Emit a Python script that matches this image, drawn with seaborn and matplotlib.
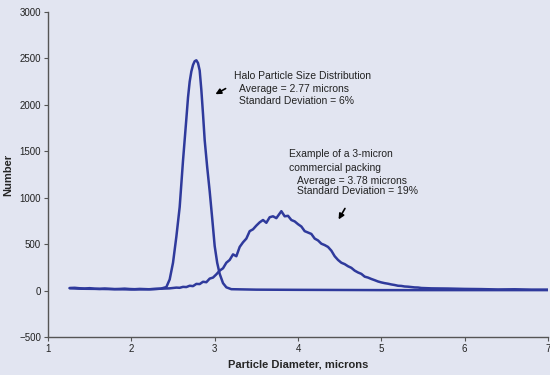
import matplotlib
matplotlib.use("Agg")
import matplotlib.pyplot as plt
import seaborn as sns
import pandas as pd

# Halo (narrow) distribution
halo_x = [1.26, 1.4, 1.6, 1.8, 2.0, 2.2, 2.35, 2.42, 2.46, 2.50, 2.54, 2.58, 2.62, 2.66,
          2.68, 2.70, 2.72, 2.74, 2.76, 2.78, 2.80, 2.82, 2.84, 2.86, 2.88, 2.91, 2.94,
          2.97, 3.00, 3.03, 3.06, 3.10, 3.14, 3.2, 3.5, 4.0, 5.0, 6.0, 7.0]
halo_y = [25, 20, 18, 15, 12, 14, 20, 38, 120, 300, 580, 900, 1400, 1850,
          2080, 2250, 2360, 2430, 2470, 2480, 2450, 2370, 2160, 1900, 1620, 1330, 1070,
          780, 480, 300, 180, 80, 35, 15, 10, 8, 5, 5, 5]

# Commercial 3-micron packing (broad) distribution
broad_x = [1.26, 1.32, 1.38, 1.44, 1.50, 1.56, 1.62, 1.68, 1.74, 1.80, 1.86, 1.92, 1.98,
           2.04, 2.10, 2.16, 2.22, 2.28, 2.34, 2.40, 2.46,
           2.50, 2.54, 2.58, 2.62, 2.66, 2.70, 2.74, 2.78, 2.82, 2.86, 2.90, 2.94, 2.98,
           3.02, 3.06, 3.10, 3.14, 3.18, 3.22, 3.26, 3.30, 3.34, 3.38, 3.42, 3.46, 3.50,
           3.54, 3.58, 3.62, 3.66, 3.70, 3.74, 3.78, 3.80, 3.84, 3.88, 3.92, 3.96, 4.00,
           4.04, 4.08, 4.12, 4.16, 4.20, 4.24, 4.28, 4.32, 4.36, 4.40, 4.44, 4.48, 4.52,
           4.56, 4.60, 4.64, 4.68, 4.72, 4.76, 4.80, 4.84, 4.88, 4.92, 4.96, 5.00, 5.04,
           5.08, 5.12, 5.16, 5.20, 5.24, 5.28, 5.32, 5.36, 5.40, 5.44, 5.48,
           5.6, 5.8, 6.0, 6.2, 6.4, 6.6, 6.8, 7.0]
broad_y = [28, 30, 25, 22, 26, 20, 18, 22, 19, 16, 18, 21, 17, 15, 18, 16, 14, 17, 20, 22, 24,
           28, 32, 30, 40, 38, 52, 48, 72, 70, 95, 90, 129, 140, 175, 215, 240, 300, 330,
           390, 370, 470, 520, 560, 640, 660, 700, 735, 760, 730, 790, 800, 780, 830, 855,
           800, 805, 760, 745, 715, 690, 640, 625, 610, 560, 540, 505, 490, 470, 430, 370,
           330, 300, 285, 262, 245, 215, 195, 180, 150, 140, 125, 112, 98, 88, 80, 74, 66,
           60, 52, 50, 44, 42, 38, 34, 33, 28, 24, 22, 18, 16, 12, 14, 10, 10]

bg = "#E2E5F1"
line_color = "#2F3A9C"

sns.set_theme(style="white")
plt.rcParams["font.family"] = ["Liberation Sans", "DejaVu Sans"]

fig = plt.figure(figsize=(5.5, 3.75), dpi=100, facecolor=bg)
ax = fig.add_axes([0.0873, 0.1013, 0.9091, 0.8667])
ax.set_facecolor(bg)

df_h = pd.DataFrame({"x": halo_x, "y": halo_y})
df_b = pd.DataFrame({"x": broad_x, "y": broad_y})
sns.lineplot(data=df_b, x="x", y="y", ax=ax, color=line_color, lw=1.8, estimator=None)
sns.lineplot(data=df_h, x="x", y="y", ax=ax, color=line_color, lw=1.8, estimator=None)

ax.set_xlim(1, 7)
ax.set_ylim(-500, 3000)
ax.set_xticks([1, 2, 3, 4, 5, 6, 7])
ax.set_yticks([-500, 0, 500, 1000, 1500, 2000, 2500, 3000])
for s in ["top", "right"]:
    ax.spines[s].set_visible(False)
for s in ["left", "bottom"]:
    ax.spines[s].set_color("#555555")
    ax.spines[s].set_linewidth(1.0)
ax.tick_params(axis="both", direction="out", length=3, width=0.8, color="#555555",
               labelsize=7, labelcolor="#222222", pad=2, left=True, bottom=True)
ax.grid(False)

ax.set_xlabel("Particle Diameter, microns", fontsize=8, fontweight="bold", labelpad=4)
ax.set_ylabel("Number", fontsize=8, fontweight="bold", labelpad=4)

ax.text(3.23, 2306, "Halo Particle Size Distribution", fontsize=7.5, color="#222222", va="center")
ax.text(3.29, 2166, "Average = 2.77 microns", fontsize=7.5, color="#222222", va="center")
ax.text(3.29, 2037, "Standard Deviation = 6%", fontsize=7.5, color="#222222", va="center")
ax.annotate("", xy=(2.98, 2100), xytext=(3.16, 2190),
            arrowprops=dict(arrowstyle="-|>", color="black", lw=1.2, mutation_scale=8))

ax.text(3.89, 1466, "Example of a 3-micron", fontsize=7.5, color="#222222", va="center")
ax.text(3.89, 1325, "commercial packing", fontsize=7.5, color="#222222", va="center")
ax.text(3.99, 1185, "Average = 3.78 microns", fontsize=7.5, color="#222222", va="center")
ax.text(3.99, 1067, "Standard Deviation = 19%", fontsize=7.5, color="#222222", va="center")
ax.annotate("", xy=(4.47, 740), xytext=(4.58, 910),
            arrowprops=dict(arrowstyle="-|>", color="black", lw=1.2, mutation_scale=8))

fig.savefig("out.png", dpi=100, facecolor=bg)
